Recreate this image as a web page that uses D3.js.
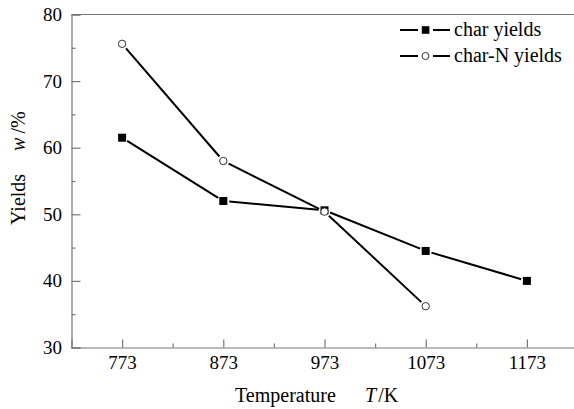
<!DOCTYPE html>
<html>
<head>
<meta charset="utf-8">
<script src="https://cdn.jsdelivr.net/npm/d3@7"></script>
<style>
  body { margin: 0; background: #fff; }
  svg { display: block; }
  svg text { font-family: "Liberation Serif", "Times New Roman", serif; fill: #000; }
</style>
</head>
<body>
<svg id="chart"></svg>
<script>
// temperatures (K) and yields (%)
const temps = [773, 873, 973, 1073, 1173];
const charYields = [61.5, 52.0, 50.6, 44.5, 40.0];
const charNTemps = [773, 873, 973, 1073];
const charNYields = [75.6, 58.0, 50.4, 36.2];
const yTicks = [30, 40, 50, 60, 70, 80];
const yMinor = [35, 45, 55, 65, 75];
const xMinor = [823, 923, 1023, 1123];

const W = 574, H = 409;
const svg = d3.select('#chart').attr('width', W).attr('height', H);

const x = d3.scaleLinear().domain([723, 1223]).range([71.5, 577.5]);
const y = d3.scaleLinear().domain([30, 80]).range([347.5, 14.5]);

const axisColor = '#777';

// frame (top edge; right side falls outside the picture)
svg.append('path')
  .attr('d', `M${x(723)},${y(80)}H${x(1223)}V${y(30)}`)
  .attr('fill', 'none')
  .attr('stroke', axisColor)
  .attr('stroke-width', 1.2);

// x axis
svg.append('g')
  .attr('transform', `translate(0, ${y(30)})`)
  .call(d3.axisBottom(x).tickValues(temps).tickSize(-8).tickPadding(8).tickFormat(d3.format('d')));
svg.append('g')
  .attr('transform', `translate(0, ${y(30)})`)
  .call(d3.axisBottom(x).tickValues(xMinor).tickSize(-4).tickFormat(''))
  .select('.domain').remove();

// y axis
svg.append('g')
  .attr('transform', `translate(${x(723)}, 0)`)
  .call(d3.axisLeft(y).tickValues(yTicks).tickSize(-9).tickPadding(9.5));
svg.append('g')
  .attr('transform', `translate(${x(723)}, 0)`)
  .call(d3.axisLeft(y).tickValues(yMinor).tickSize(-4).tickFormat(''))
  .select('.domain').remove();

svg.selectAll('g').attr('font-family', null).attr('font-size', null);
svg.selectAll('.domain, .tick line')
  .attr('stroke', axisColor)
  .attr('stroke-width', 1.2);
svg.selectAll('.tick text')
  .style('font-family', '"Liberation Serif", serif')
  .style('font-size', '19px')
  .attr('fill', '#000');

// series lines, drawn as segments that stop short of the markers
function drawSeries(xs, ys) {
  const pts = xs.map((t, i) => [x(t), y(ys[i])]);
  const gap = 6;
  for (let i = 0; i < pts.length - 1; i++) {
    const [x1, y1] = pts[i], [x2, y2] = pts[i + 1];
    const len = Math.hypot(x2 - x1, y2 - y1);
    const ux = (x2 - x1) / len, uy = (y2 - y1) / len;
    svg.append('line')
      .attr('x1', x1 + ux * gap).attr('y1', y1 + uy * gap)
      .attr('x2', x2 - ux * gap).attr('y2', y2 - uy * gap)
      .attr('stroke', '#000')
      .attr('stroke-width', 2);
  }
}

drawSeries(temps, charYields);
drawSeries(charNTemps, charNYields);

svg.selectAll('rect.sq')
  .data(temps)
  .enter()
  .append('rect')
  .attr('class', 'sq')
  .attr('x', d => x(d) - 4)
  .attr('y', (d, i) => y(charYields[i]) - 4)
  .attr('width', 8)
  .attr('height', 8)
  .attr('fill', '#000');

svg.selectAll('circle.ci')
  .data(charNTemps)
  .enter()
  .append('circle')
  .attr('class', 'ci')
  .attr('cx', d => x(d))
  .attr('cy', (d, i) => y(charNYields[i]))
  .attr('r', 3.7)
  .attr('fill', '#fff')
  .attr('stroke', '#333')
  .attr('stroke-width', 1);

// legend
const legend = svg.append('g');
[['char yields', 'square', 30], ['char-N yields', 'circle', 56]].forEach(([label, kind, ly]) => {
  legend.append('line').attr('x1', 400).attr('x2', 418).attr('y1', ly).attr('y2', ly)
    .attr('stroke', '#000').attr('stroke-width', 2);
  legend.append('line').attr('x1', 433).attr('x2', 450).attr('y1', ly).attr('y2', ly)
    .attr('stroke', '#000').attr('stroke-width', 2);
  if (kind === 'square') {
    legend.append('rect').attr('x', 421.8).attr('y', ly - 3.8).attr('width', 7.6).attr('height', 7.6)
      .attr('fill', '#000');
  } else {
    legend.append('circle').attr('cx', 425.5).attr('cy', ly).attr('r', 3.5)
      .attr('fill', '#fff').attr('stroke', '#333').attr('stroke-width', 1);
  }
  legend.append('text')
    .attr('x', 454)
    .attr('y', ly + 6)
    .attr('font-size', 20)
    .text(label);
});

// x axis title
const xt = svg.append('text')
  .attr('x', 235)
  .attr('y', 402)
  .attr('font-size', 20);
xt.append('tspan').text('Temperature');
xt.append('tspan').attr('x', 365).attr('font-style', 'italic').text('T');
xt.append('tspan').attr('dx', 2).text('/K');

// y axis title
const yt = svg.append('text')
  .attr('transform', 'rotate(-90)')
  .attr('x', -225)
  .attr('y', 25)
  .attr('font-size', 20);
yt.append('tspan').text('Yields');
yt.append('tspan').attr('dx', 23).attr('font-style', 'italic').text('w');
yt.append('tspan').attr('dx', 4).text('/%');
</script>
</body>
</html>
